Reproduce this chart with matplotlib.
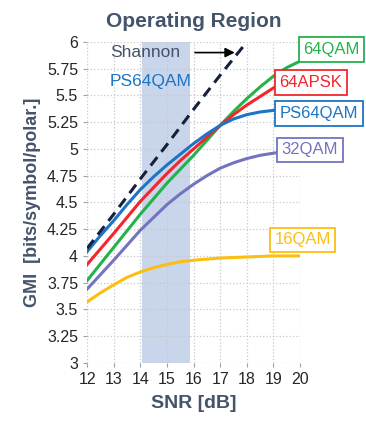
import numpy as np
import matplotlib
matplotlib.use("Agg")
import matplotlib.pyplot as plt

plt.rcParams['font.family'] = ['Liberation Sans', 'DejaVu Sans']

# SNR axis [dB]
snr = [12, 12.5, 13, 13.5, 14, 14.5, 15, 15.5, 16, 16.5, 17, 17.5, 18, 18.5, 19, 19.5, 20]
snr_shannon = [12, 13, 14, 15, 16, 17, 18]

# GMI [bits/symbol/polar.]
shannon = [4.07, 4.39, 4.72, 5.04, 5.37, 5.69, 6.00]
ps64qam = [4.04, 4.19, 4.33, 4.48, 4.62, 4.74, 4.85, 4.95, 5.05, 5.14, 5.22,
           5.28, 5.32, 5.345, 5.36, 5.37, 5.38]
apsk64 = [3.92, 4.065, 4.21, 4.36, 4.51, 4.64, 4.77, 4.89, 5.00, 5.11, 5.22,
          5.32, 5.41, 5.49, 5.57, 5.63, 5.68]
qam64 = [3.77, 3.925, 4.08, 4.235, 4.39, 4.535, 4.68, 4.81, 4.94, 5.08, 5.22,
         5.35, 5.47, 5.58, 5.68, 5.76, 5.82]
qam32 = [3.69, 3.825, 3.96, 4.10, 4.24, 4.36, 4.48, 4.58, 4.67, 4.75, 4.82,
         4.87, 4.91, 4.94, 4.96, 4.98, 4.99]
qam16 = [3.57, 3.655, 3.73, 3.80, 3.85, 3.89, 3.92, 3.945, 3.96, 3.97, 3.98,
         3.985, 3.99, 3.995, 4.00, 4.00, 4.00]

region = (14.05, 15.85)

dark = '#44546a'
c_blue = '#1b75c4'
c_red = '#f2262c'
c_green = '#24b24b'
c_purple = '#7373bf'
c_yellow = '#fbbf12'

fig = plt.figure(figsize=(3.66, 4.23), dpi=100)
ax = fig.add_axes([0.238, 0.142, 0.582, 0.759])

ax.axvspan(region[0], region[1], color='#c9d5ea', lw=0, zorder=0)

kw = dict(lw=2.2, zorder=3, solid_joinstyle='round')
ax.plot(snr, qam16, color=c_yellow, **kw)
ax.plot(snr, qam32, color=c_purple, **kw)
ax.plot(snr, qam64, color=c_green, **kw)
ax.plot(snr, apsk64, color=c_red, **kw)
ax.plot(snr, ps64qam, color=c_blue, **kw)
ax.plot(snr_shannon, shannon, color='#14213d', lw=2.2, ls=(0, (3.5, 2.2)), zorder=4)

ax.set_xlim(12, 20)
ax.set_ylim(3, 6)
ax.set_xticks(np.arange(12, 21, 1))
ax.set_yticks(np.arange(3, 6.01, 0.25))
ax.set_yticklabels(['3', '3.25', '3.5', '3.75', '4', '4.25', '4.5', '4.75',
                    '5', '5.25', '5.5', '5.75', '6'])
ax.grid(True, color='#c8c8c8', ls=':', lw=0.9)
ax.set_axisbelow(True)
for s in ax.spines.values():
    s.set_visible(False)
ax.tick_params(length=3, color='#a0a0a0', labelsize=11.5, labelcolor='#262626')

ax.set_xlabel('SNR [dB]', fontsize=14, fontweight='bold', color=dark, labelpad=6)
ax.set_ylabel('GMI  [bits/symbol/polar.]', fontsize=13, fontweight='bold', color=dark, labelpad=4)
ax.set_title('Operating Region', fontsize=15, fontweight='bold', color=dark, pad=11)

ax.text(12.85, 5.9, 'Shannon', fontsize=12.5, color=dark, va='center', zorder=5)
ax.annotate('', xy=(17.65, 5.9), xytext=(15.95, 5.9),
            arrowprops=dict(arrowstyle='-|>', color='black', lw=1.2, mutation_scale=14))
ax.text(12.85, 5.63, 'PS64QAM', fontsize=12.5, color=c_blue, va='center', zorder=5)

boxes = [('64QAM', 20.12, 5.93, c_green),
         ('64APSK', 19.22, 5.62, c_red),
         ('PS64QAM', 19.22, 5.33, c_blue),
         ('32QAM', 19.3, 4.99, c_purple),
         ('16QAM', 19.03, 4.15, c_yellow)]
for name, bx, by, col in boxes:
    ax.text(bx, by, name, fontsize=12, color=col, va='center', ha='left',
            clip_on=False, zorder=6,
            bbox=dict(boxstyle='square,pad=0.28', fc='white', ec=col, lw=1.3))

fig.savefig('out.png', dpi=100)
